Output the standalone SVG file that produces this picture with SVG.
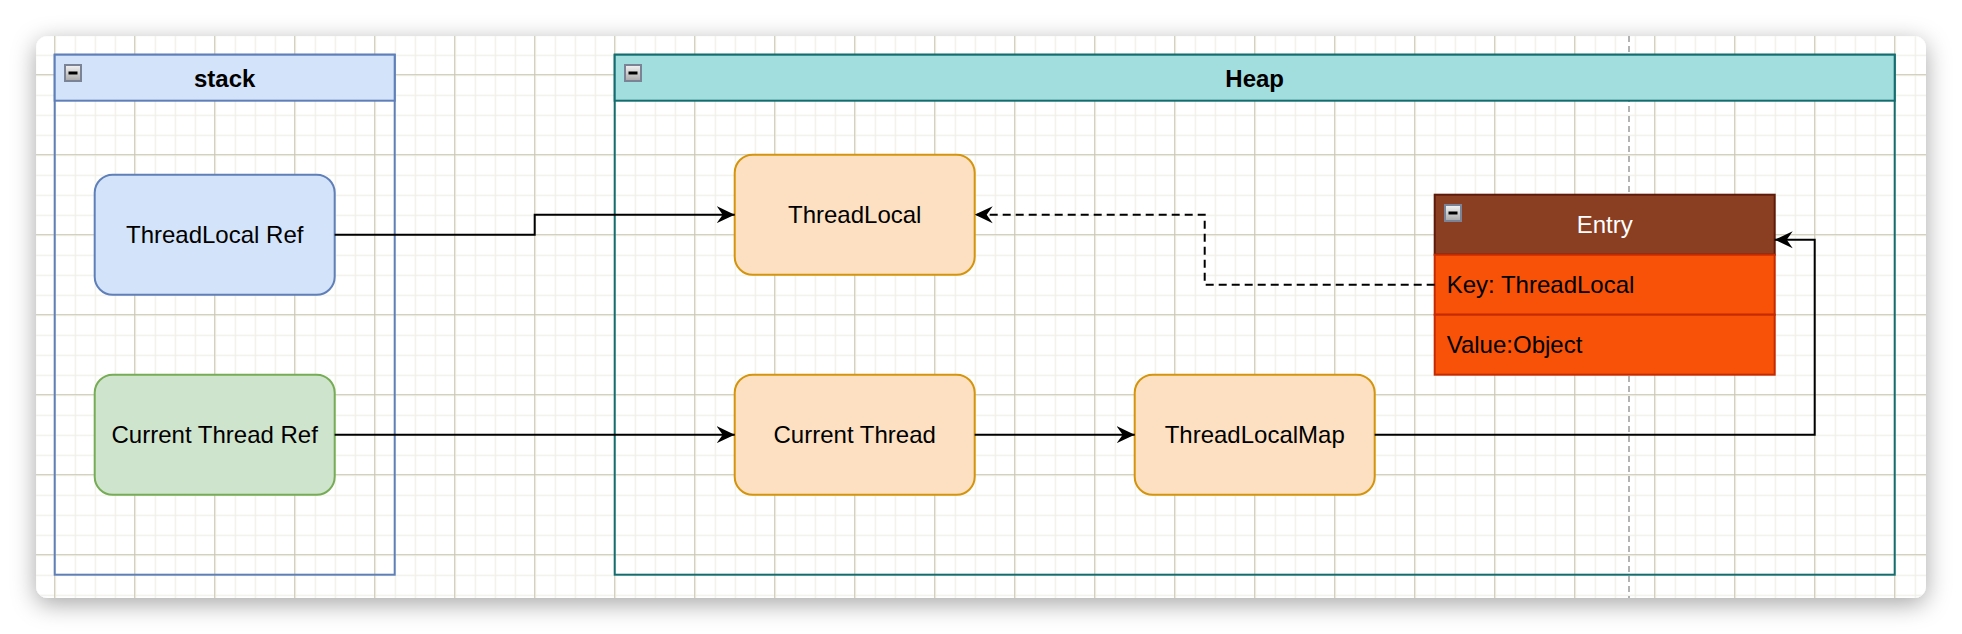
<svg xmlns="http://www.w3.org/2000/svg" width="1962" height="634" viewBox="0 0 1962 634">
  <style>
    text { font-family: "Liberation Sans", Arial, Helvetica, sans-serif; font-size: 24px; fill: #000; }
    .title { font-weight: bold; text-anchor: middle; }
    .label { text-anchor: middle; }
    .row { text-anchor: start; }
    .edge { fill: none; stroke: #000; stroke-width: 2; }
    .dash { stroke-dasharray: 8 5; }
    .icon { fill: url(#iconGrad); stroke: #7a8496; stroke-width: 2; }
    .minus { stroke: #000; stroke-width: 3; }
  </style>
  <defs>
    <filter id="shadow" x="-10%" y="-20%" width="120%" height="150%">
      <feDropShadow dx="0" dy="6" stdDeviation="12" flood-color="#000" flood-opacity="0.35"/>
    </filter>
    <pattern id="minor" width="20" height="20" patternUnits="userSpaceOnUse" x="14.7" y="14.7">
      <path d="M0 0.5 H20 M0.5 0 V20" stroke="#efefe7" stroke-width="1.5" fill="none"/>
    </pattern>
    <pattern id="major" width="80" height="80" patternUnits="userSpaceOnUse" x="54.2" y="74.2">
      <path d="M0 0.5 H80 M0.5 0 V80" stroke="#c9c7b2" stroke-width="1" fill="none"/>
    </pattern>
    <linearGradient id="iconGrad" x1="0" y1="0" x2="0" y2="1">
      <stop offset="0" stop-color="#f4f4f4"/>
      <stop offset="1" stop-color="#a8a8a8"/>
    </linearGradient>
    <marker id="arrow" viewBox="0 0 18 18" refX="18" refY="9" markerWidth="18" markerHeight="18" markerUnits="userSpaceOnUse" orient="auto">
      <path d="M18 9 L0 0.5 L6 9 L0 17.5 Z" fill="#000"/>
    </marker>
    <clipPath id="canvasClip">
      <rect x="36" y="36" width="1890" height="562" rx="12"/>
    </clipPath>
  </defs>

  <rect width="1962" height="634" fill="#ffffff"/>
  <rect x="36" y="36" width="1890" height="562" rx="12" fill="#ffffff" filter="url(#shadow)"/>
  <g clip-path="url(#canvasClip)">
    <rect x="36" y="36" width="1890" height="562" fill="url(#minor)"/>
    <rect x="36" y="36" width="1890" height="562" fill="url(#major)"/>
    <line x1="1629" y1="36" x2="1629" y2="598" stroke="#b3b3b3" stroke-width="2" stroke-dasharray="6 4"/>
  </g>

  <g id="stack">
    <rect x="54.7" y="54.7" width="340" height="520" fill="none" stroke="#5f7fb8" stroke-width="2"/>
    <rect x="54.7" y="54.7" width="340" height="46" fill="#d3e3f9" stroke="#5f7fb8" stroke-width="2"/>
    <rect class="icon" x="65" y="65" width="16" height="16"/>
    <line class="minus" x1="68.5" y1="73" x2="77.5" y2="73"/>
    <text class="title" x="224.7" y="86.5">stack</text>
  </g>

  <g id="heap">
    <rect x="614.7" y="54.7" width="1280" height="520" fill="none" stroke="#136d6f" stroke-width="2"/>
    <rect x="614.7" y="54.7" width="1280" height="46" fill="#a3dedf" stroke="#136d6f" stroke-width="2"/>
    <rect class="icon" x="625" y="65" width="16" height="16"/>
    <line class="minus" x1="628.5" y1="73" x2="637.5" y2="73"/>
    <text class="title" x="1254.7" y="86.5">Heap</text>
  </g>

  <g id="threadlocal-ref">
    <rect x="94.7" y="174.7" width="240" height="120" rx="18" fill="#d3e3f9" stroke="#5f7fb8" stroke-width="2"/>
    <text class="label" x="214.7" y="243.2">ThreadLocal Ref</text>
  </g>

  <g id="current-thread-ref">
    <rect x="94.7" y="374.7" width="240" height="120" rx="18" fill="#cfe4cd" stroke="#76ac55" stroke-width="2"/>
    <text class="label" x="214.7" y="443.2">Current Thread Ref</text>
  </g>

  <g id="threadlocal">
    <rect x="734.7" y="154.7" width="240" height="120" rx="18" fill="#fde0c2" stroke="#d4940c" stroke-width="2"/>
    <text class="label" x="854.7" y="223.2">ThreadLocal</text>
  </g>

  <g id="current-thread">
    <rect x="734.7" y="374.7" width="240" height="120" rx="18" fill="#fde0c2" stroke="#d4940c" stroke-width="2"/>
    <text class="label" x="854.7" y="443.2">Current Thread</text>
  </g>

  <g id="threadlocalmap">
    <rect x="1134.7" y="374.7" width="240" height="120" rx="18" fill="#fde0c2" stroke="#d4940c" stroke-width="2"/>
    <text class="label" x="1254.7" y="443.2">ThreadLocalMap</text>
  </g>

  <g id="entry">
    <rect x="1434.7" y="194.7" width="340" height="60" fill="#8a3e22" stroke="#5e1a08" stroke-width="2"/>
    <rect x="1434.7" y="254.7" width="340" height="60" fill="#f85208" stroke="#c42a02" stroke-width="2"/>
    <rect x="1434.7" y="314.7" width="340" height="60" fill="#f85208" stroke="#c42a02" stroke-width="2"/>
    <rect class="icon" x="1445" y="205" width="16" height="16"/>
    <line class="minus" x1="1448.5" y1="213" x2="1457.5" y2="213"/>
    <text class="label" x="1604.7" y="233.2" fill="#ffffff" style="fill:#ffffff">Entry</text>
    <text class="row" x="1446.7" y="293.2">Key: ThreadLocal</text>
    <text class="row" x="1446.7" y="353.2">Value:Object</text>
  </g>

  <g id="connectors">
    <path class="edge" d="M334.7 234.7 H534.7 V214.7 H734.7" marker-end="url(#arrow)"/>
    <path class="edge" d="M334.7 434.7 H734.7" marker-end="url(#arrow)"/>
    <path class="edge" d="M974.7 434.7 H1134.7" marker-end="url(#arrow)"/>
    <path class="edge" d="M1374.7 434.7 H1814.7 V239.7 H1774.7" marker-end="url(#arrow)"/>
    <path class="edge dash" d="M1434.7 284.7 H1204.7 V214.7 H974.7" marker-end="url(#arrow)"/>
  </g>
</svg>
